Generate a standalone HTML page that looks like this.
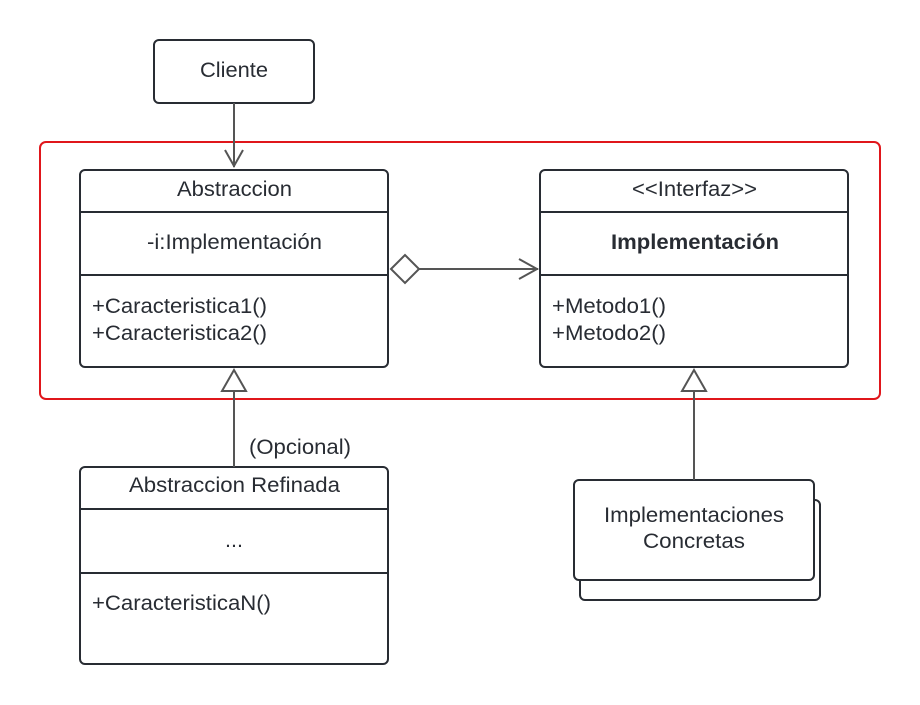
<!DOCTYPE html>
<html><head><meta charset="utf-8"><style>
html,body{margin:0;padding:0;background:#fff;}
svg{display:block;}
text{font-family:"Liberation Sans",sans-serif;fill:#282c33;font-size:21.5px;}
</style></head><body>
<svg width="920" height="705" viewBox="0 0 920 705" xmlns="http://www.w3.org/2000/svg">
<g stroke="#282c33" stroke-width="2" fill="#fff">
<rect x="40" y="142" width="840" height="257" rx="6" stroke="#e0161b" fill="none"/>
<rect x="154" y="40" width="160" height="63" rx="5"/>
<rect x="80" y="170" width="308" height="197" rx="5"/>
<line x1="80" y1="212" x2="388" y2="212"/>
<line x1="80" y1="275" x2="388" y2="275"/>
<rect x="540" y="170" width="308" height="197" rx="5"/>
<line x1="540" y1="212" x2="848" y2="212"/>
<line x1="540" y1="275" x2="848" y2="275"/>
<rect x="80" y="467" width="308" height="197" rx="5"/>
<line x1="80" y1="509" x2="388" y2="509"/>
<line x1="80" y1="573" x2="388" y2="573"/>
<rect x="580" y="500" width="240" height="100" rx="5"/>
<rect x="574" y="480" width="240" height="100" rx="5"/>
</g>
<g stroke="#555" stroke-width="2" fill="none">
<line x1="234" y1="103" x2="234" y2="167"/>
<polyline points="225,150 234,166 243,150"/>
<line x1="418" y1="269" x2="538" y2="269"/>
<polyline points="519,259 537,269 519,279"/>
<polygon points="391,269 405,255 419,269 405,283" fill="#fff"/>
<line x1="234" y1="391" x2="234" y2="467"/>
<polygon points="234,370 222,391 246,391" fill="#fff"/>
<line x1="694" y1="391" x2="694" y2="480"/>
<polygon points="694,370 682,391 706,391" fill="#fff"/>
</g>
<g lengthAdjust="spacingAndGlyphs">
<text x="200" y="77" textLength="68" lengthAdjust="spacingAndGlyphs">Cliente</text>
<text x="177" y="196" textLength="115" lengthAdjust="spacingAndGlyphs">Abstraccion</text>
<text x="147" y="249" textLength="175" lengthAdjust="spacingAndGlyphs">-i:Implementación</text>
<text x="92" y="313" textLength="175" lengthAdjust="spacingAndGlyphs">+Caracteristica1()</text>
<text x="92" y="340" textLength="175" lengthAdjust="spacingAndGlyphs">+Caracteristica2()</text>
<text x="632" y="196" textLength="125" lengthAdjust="spacingAndGlyphs">&lt;&lt;Interfaz&gt;&gt;</text>
<text x="611" y="249" textLength="168" lengthAdjust="spacingAndGlyphs" font-weight="bold">Implementación</text>
<text x="552" y="313" textLength="114" lengthAdjust="spacingAndGlyphs">+Metodo1()</text>
<text x="552" y="340" textLength="114" lengthAdjust="spacingAndGlyphs">+Metodo2()</text>
<text x="249" y="454" textLength="102" lengthAdjust="spacingAndGlyphs">(Opcional)</text>
<text x="129" y="492" textLength="211" lengthAdjust="spacingAndGlyphs">Abstraccion Refinada</text>
<text x="234" y="547" text-anchor="middle">...</text>
<text x="92" y="610" textLength="179" lengthAdjust="spacingAndGlyphs">+CaracteristicaN()</text>
<text x="604" y="522" textLength="180" lengthAdjust="spacingAndGlyphs">Implementaciones</text>
<text x="643" y="548" textLength="102" lengthAdjust="spacingAndGlyphs">Concretas</text>
</g>
</svg>
</body></html>
